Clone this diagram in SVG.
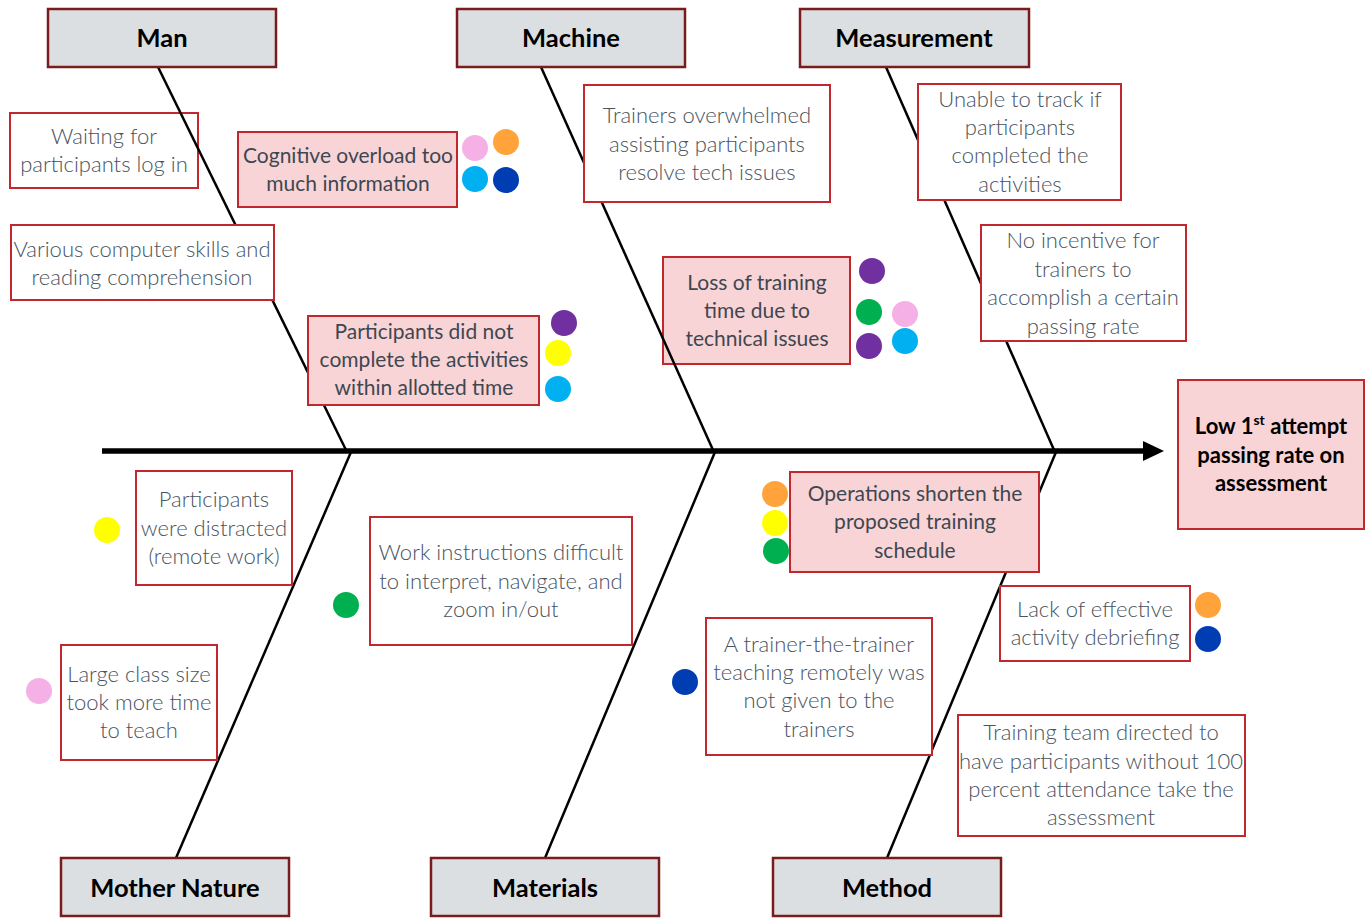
<svg xmlns="http://www.w3.org/2000/svg" width="1372" height="918" viewBox="0 0 1372 918">
<style>
.cat rect{fill:#dcdfe2;stroke:#7a1c1c;stroke-width:2.5}
.cat text{font-family:Lato,"Liberation Sans",sans-serif;font-weight:700;font-size:25.5px;fill:#000;text-anchor:middle}
.lt rect{fill:#fff;stroke:#c0282d;stroke-width:2}
.lt text{font-family:Lato,"Liberation Sans",sans-serif;font-weight:300;font-size:22px;fill:#48535e;text-anchor:middle}
.pk rect{fill:#f9d4d6;stroke:#c0282d;stroke-width:2}
.pk text{font-family:Lato,"Liberation Sans",sans-serif;font-weight:400;font-size:21px;fill:#3e4751;text-anchor:middle}
.hd text{font-weight:700;fill:#000;font-size:22px}
.bone{stroke:#000;stroke-width:2.5;fill:none}
</style>
<rect width="1372" height="918" fill="#fff"/>

<g id="n-waiting" class="lt"><rect x="10" y="113" width="188" height="75"/><text x="104" y="144">Waiting for</text><text x="104" y="172">participants log in</text></g>
<g id="n-loss" class="pk"><rect x="663" y="257" width="187" height="107"/><text x="757" y="290">Loss of training</text><text x="757" y="318">time due to</text><text x="757" y="346">technical issues</text></g>

<g id="connectors">
<line class="bone" x1="158" y1="67" x2="346" y2="450"/>
<line class="bone" x1="541" y1="67" x2="713" y2="450"/>
<line class="bone" x1="886" y1="67" x2="1054" y2="450"/>
<line class="bone" x1="351" y1="452" x2="176" y2="858"/>
<line class="bone" x1="715" y1="452" x2="545" y2="858"/>
<line class="bone" x1="1056" y1="452" x2="887" y2="858"/>
<line x1="102" y1="451" x2="1146" y2="451" stroke="#000" stroke-width="5.5"/>
<polygon points="1143,441 1164,451 1143,461" fill="#000"/>
</g>

<g id="c-man" class="cat"><rect x="48" y="9" width="228" height="58"/><text x="162" y="47">Man</text></g>
<g id="c-machine" class="cat"><rect x="457" y="9" width="228" height="58"/><text x="571" y="47">Machine</text></g>
<g id="c-measurement" class="cat"><rect x="800" y="9" width="229" height="58"/><text x="914" y="47">Measurement</text></g>
<g id="c-mother" class="cat"><rect x="61" y="858" width="228" height="58"/><text x="175" y="897">Mother Nature</text></g>
<g id="c-materials" class="cat"><rect x="431" y="858" width="228" height="58"/><text x="545" y="897">Materials</text></g>
<g id="c-method" class="cat"><rect x="773" y="858" width="228" height="58"/><text x="887" y="897">Method</text></g>

<g id="n-cognitive" class="pk"><rect x="238" y="132" width="219" height="75"/><text x="348" y="163">Cognitive overload too</text><text x="348" y="191">much information</text></g>
<g id="n-various" class="lt"><rect x="11" y="225" width="263" height="75"/><text x="142" y="257">Various computer skills and</text><text x="142" y="285">reading comprehension</text></g>
<g id="n-trainers" class="lt"><rect x="584" y="85" width="246" height="117"/><text x="707" y="123">Trainers overwhelmed</text><text x="707" y="152">assisting participants</text><text x="707" y="180">resolve tech issues</text></g>
<g id="n-unable" class="lt"><rect x="918" y="84" width="203" height="116"/><text x="1020" y="107">Unable to track if</text><text x="1020" y="135">participants</text><text x="1020" y="163">completed the</text><text x="1020" y="192">activities</text></g>
<g id="n-incentive" class="lt"><rect x="981" y="225" width="205" height="116"/><text x="1083" y="248">No incentive for</text><text x="1083" y="277">trainers to</text><text x="1083" y="305">accomplish a certain</text><text x="1083" y="334">passing rate</text></g>
<g id="n-notcomplete" class="pk"><rect x="308" y="316" width="231" height="89"/><text x="424" y="339">Participants did not</text><text x="424" y="367">complete the activities</text><text x="424" y="395">within allotted time</text></g>
<g id="n-head" class="pk hd"><rect x="1178" y="380" width="186" height="149"/><text x="1271" y="434">Low 1<tspan font-size="14" dy="-9">st</tspan><tspan dy="9"> attempt</tspan></text><text x="1271" y="463">passing rate on</text><text x="1271" y="491">assessment</text></g>
<g id="n-distracted" class="lt"><rect x="136" y="471" width="156" height="114"/><text x="214" y="507">Participants</text><text x="214" y="536">were distracted</text><text x="214" y="564">(remote work)</text></g>
<g id="n-work" class="lt"><rect x="370" y="517" width="262" height="128"/><text x="501" y="560">Work instructions difficult</text><text x="501" y="589">to interpret, navigate, and</text><text x="501" y="617">zoom in/out</text></g>
<g id="n-operations" class="pk"><rect x="790" y="472" width="249" height="100"/><text x="915" y="501">Operations shorten the</text><text x="915" y="529">proposed training</text><text x="915" y="558">schedule</text></g>
<g id="n-debrief" class="lt"><rect x="1000" y="586" width="190" height="75"/><text x="1095" y="617">Lack of effective</text><text x="1095" y="645">activity debriefing</text></g>
<g id="n-ttt" class="lt"><rect x="706" y="618" width="226" height="137"/><text x="819" y="652">A trainer-the-trainer</text><text x="819" y="680">teaching remotely was</text><text x="819" y="708">not given to the</text><text x="819" y="737">trainers</text></g>
<g id="n-large" class="lt"><rect x="61" y="645" width="156" height="115"/><text x="139" y="682">Large class size</text><text x="139" y="710">took more time</text><text x="139" y="738">to teach</text></g>
<g id="n-attendance" class="lt"><rect x="958" y="715" width="287" height="121"/><text x="1101" y="740">Training team directed to</text><text x="1101" y="769">have participants without 100</text><text x="1101" y="797">percent attendance take the</text><text x="1101" y="825">assessment</text></g>

<g id="dots">
<circle cx="475" cy="148" r="13" fill="#f5b0e6"/><circle cx="506" cy="142" r="13" fill="#ffa33a"/>
<circle cx="475" cy="179" r="13" fill="#00b0f0"/><circle cx="506" cy="180" r="13" fill="#003db3"/>
<circle cx="872" cy="271" r="13" fill="#7030a0"/><circle cx="869" cy="312" r="13" fill="#00b050"/>
<circle cx="869" cy="346" r="13" fill="#7030a0"/><circle cx="905" cy="314" r="13" fill="#f5b0e6"/>
<circle cx="905" cy="341" r="13" fill="#00b0f0"/>
<circle cx="564" cy="323" r="13" fill="#7030a0"/><circle cx="558" cy="353" r="13" fill="#ffff00"/>
<circle cx="558" cy="389" r="13" fill="#00b0f0"/>
<circle cx="107" cy="530" r="13" fill="#ffff00"/>
<circle cx="346" cy="605" r="13" fill="#00b050"/>
<circle cx="39" cy="691" r="13" fill="#f5b0e6"/>
<circle cx="775" cy="494" r="13" fill="#ffa33a"/><circle cx="775" cy="523" r="13" fill="#ffff00"/>
<circle cx="776" cy="551" r="13" fill="#00b050"/>
<circle cx="685" cy="682" r="13" fill="#003db3"/>
<circle cx="1208" cy="605" r="13" fill="#ffa33a"/><circle cx="1208" cy="639" r="13" fill="#003db3"/>
</g>
</svg>
